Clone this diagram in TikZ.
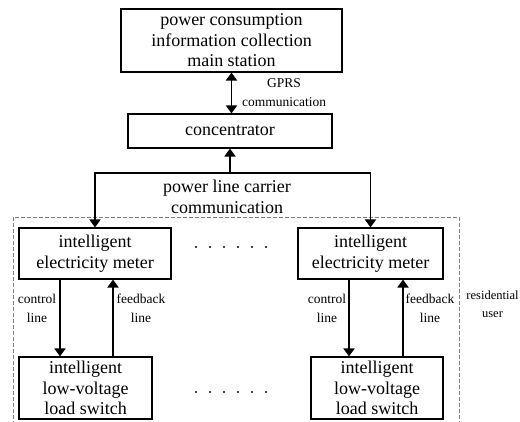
\documentclass[tikz,border=0pt]{standalone}
\usepackage{fontspec}
\setmainfont{Liberation Serif}
\usetikzlibrary{arrows.meta,calc}
\newcommand{\bigfont}{\fontsize{18}{20.5}\selectfont}
\newcommand{\smallfont}{\fontsize{13.5}{19}\selectfont}

\begin{document}
\begin{tikzpicture}[x=1pt,y=-1pt,
	box/.style={draw, line width=1.1pt, inner sep=0pt, align=center, font=\bigfont},
	arr/.style={line width=1.8pt, -{Triangle[width=11pt,length=8pt]}},
	lbl/.style={inner sep=0pt, align=center, font=\smallfont}]
	\useasboundingbox (0,0) rectangle (520,421);
	\clip (0,0) rectangle (520,421);

	\draw[gray, line width=0.7pt, dash pattern=on 4pt off 2pt] (13,217) rectangle (459,440);

	\node[box, minimum width=221, minimum height=63] (main) at (231.5,40.5)
		{power consumption\\information collection\\main station};
	\node[box, minimum width=204, minimum height=34] (conc) at (230,131) {concentrator};
	\node[box, minimum width=152, minimum height=51] (mL) at (95,253.5)
		{intelligent\\electricity meter};
	\node[box, minimum width=145, minimum height=51] (mR) at (370.5,253.5)
		{intelligent\\electricity meter};
	\node[box, minimum width=133, minimum height=62] (sL) at (85.5,388)
		{intelligent\\low-voltage\\load switch};
	\node[box, minimum width=132, minimum height=62] (sR) at (377,388)
		{intelligent\\low-voltage\\load switch};

	\coordinate (bus) at (conc.south |- 0,173);

	\draw[arr, {Triangle[width=11pt,length=8pt]}-{Triangle[width=11pt,length=8pt]}]
		(main.south) -- (main.south |- conc.north);
	\node[lbl] (gprs) at (284,93) {GPRS\\communication};
	\draw[arr] (bus) -- (conc.south);
	\draw[arr] (bus) -| (mL.north);
	\draw[arr] (bus) -| (mR.north);
	\node[lbl, font=\bigfont] (plc) at (227,197) {power line carrier\\communication};

	\draw[arr] (60,0 |- mL.south) -- (60,0 |- sL.north);
	\draw[arr] (113,0 |- sL.north) -- (113,0 |- mL.south);
	\draw[arr] (349,0 |- mR.south) -- (349,0 |- sR.north);
	\draw[arr] (403,0 |- sR.north) -- (403,0 |- mR.south);
	\node[lbl] (ctlL) at (37,308) {control\\line};
	\node[lbl] (fbL) at (141,308) {feedback\\line};
	\node[lbl] (ctlR) at (327,308) {control\\line};
	\node[lbl] (fbR) at (430,308) {feedback\\line};
	\node[lbl, font=\fontsize{12.5}{18}\selectfont] (user) at (492.5,304) {residential\\user};

	\foreach \x in {196,210,...,266} {
		\fill (\x,247) circle (1.1);
		\fill (\x,392) circle (1.1);
	}
\end{tikzpicture}
\end{document}
